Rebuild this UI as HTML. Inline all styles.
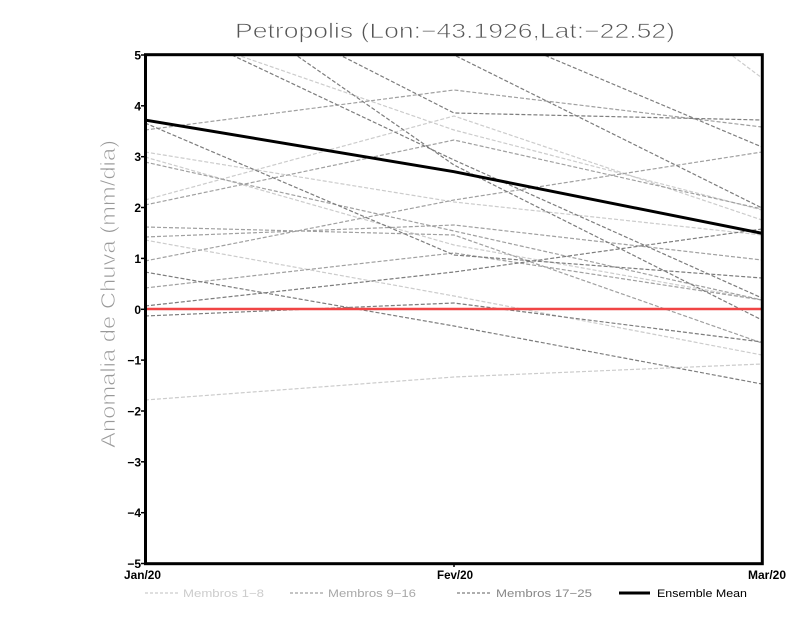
<!DOCTYPE html>
<html>
<head>
<meta charset="utf-8">
<style>
html,body{margin:0;padding:0;background:#fff;}
svg{display:block;}
text{font-family:"Liberation Sans",sans-serif;}
</style>
</head>
<body>
<svg width="800" height="618" viewBox="0 0 800 618" xmlns="http://www.w3.org/2000/svg">
<defs>
<clipPath id="pa"><rect x="145.5" y="55" width="616.5" height="509"/></clipPath>
</defs>
<rect width="800" height="618" fill="#fff"/>

<!-- title -->
<text x="235" y="38" font-size="21" fill="#555" stroke="#fff" stroke-width="0.7" textLength="440" lengthAdjust="spacingAndGlyphs">Petropolis (Lon:−43.1926,Lat:−22.52)</text>

<!-- y label -->
<text transform="translate(115,448) rotate(-90)" x="0" y="0" font-size="20" fill="#999" stroke="#fff" stroke-width="0.7" textLength="308" lengthAdjust="spacingAndGlyphs">Anomalia de Chuva (mm/dia)</text>

<g clip-path="url(#pa)" fill="none" stroke-width="1.2" stroke-dasharray="4 2">
<!-- light members 1-8 -->
<g stroke="#cccccc">
<polyline points="145,-400 454,-153 762,78"/>
<polyline points="145,23 454,130 762,210"/>
<polyline points="145,200 454,116 762,220"/>
<polyline points="145,152 454,202 762,235"/>
<polyline points="145,157 454,245 762,300"/>
<polyline points="145,240 454,296 762,355"/>
<polyline points="145,400 454,377 762,364"/>
</g>
<!-- medium members 9-16 -->
<g stroke="#a0a0a0">
<polyline points="145,130 454,90 762,127"/>
<polyline points="145,205 454,140 762,209"/>
<polyline points="145,237 454,225 762,260"/>
<polyline points="145,162 454,231 762,300"/>
<polyline points="145,227 454,235 762,343"/>
<polyline points="145,261 454,200 762,152"/>
<polyline points="145,288 454,253 762,300"/>
</g>
<!-- dark members 17-25 -->
<g stroke="#7d7d7d">
<polyline points="145,-44 454,113 762,120"/>
<polyline points="145,-100 454,55 762,208"/>
<polyline points="145,-90 454,17 762,147"/>
<polyline points="145,14 454,160 762,298"/>
<polyline points="145,-50 454,165 762,320"/>
<polyline points="145,123 454,255 762,278"/>
<polyline points="145,272 454,326 762,384"/>
<polyline points="145,316 454,303 762,342"/>
<polyline points="145,306 454,272 762,229"/>
</g>
</g>

<!-- zero line -->
<line x1="145.5" y1="309" x2="762" y2="309" stroke="#f04545" stroke-width="2.6"/>
<!-- ensemble mean -->
<polyline clip-path="url(#pa)" points="145,120 454,171.7 762,233.3" fill="none" stroke="#000" stroke-width="3"/>

<!-- frame -->
<rect x="145.5" y="54.7" width="616.8" height="509" fill="none" stroke="#000" stroke-width="3"/>

<!-- y ticks -->
<g stroke="#000" stroke-width="1.5">
<line x1="141" y1="55" x2="145" y2="55"/>
<line x1="141" y1="105.8" x2="145" y2="105.8"/>
<line x1="141" y1="156.7" x2="145" y2="156.7"/>
<line x1="141" y1="207.5" x2="145" y2="207.5"/>
<line x1="141" y1="258.4" x2="145" y2="258.4"/>
<line x1="141" y1="309.3" x2="145" y2="309.3"/>
<line x1="141" y1="360.1" x2="145" y2="360.1"/>
<line x1="141" y1="411" x2="145" y2="411"/>
<line x1="141" y1="461.8" x2="145" y2="461.8"/>
<line x1="141" y1="512.7" x2="145" y2="512.7"/>
<line x1="141" y1="563.5" x2="145" y2="563.5"/>
<line x1="454" y1="563" x2="454" y2="567"/>
</g>
<g font-size="12" font-weight="bold" fill="#000" text-anchor="end">
<text x="141" y="59.5">5</text>
<text x="141" y="110.3">4</text>
<text x="141" y="161.2">3</text>
<text x="141" y="212">2</text>
<text x="141" y="262.9">1</text>
<text x="141" y="313.8">0</text>
<text x="141" y="364.6">−1</text>
<text x="141" y="415.5">−2</text>
<text x="141" y="466.3">−3</text>
<text x="141" y="517.2">−4</text>
<text x="141" y="568">−5</text>
</g>

<!-- x labels -->
<g font-size="12" font-weight="bold" fill="#000">
<text x="124" y="579" textLength="37" lengthAdjust="spacingAndGlyphs">Jan/20</text>
<text x="437" y="579" textLength="36" lengthAdjust="spacingAndGlyphs">Fev/20</text>
<text x="748" y="579" textLength="38" lengthAdjust="spacingAndGlyphs">Mar/20</text>
</g>

<!-- legend -->
<g font-size="11">
<line x1="145" y1="593" x2="178" y2="593" stroke="#cccccc" stroke-width="1.2" stroke-dasharray="3 2"/>
<text x="183" y="597" fill="#cccccc" textLength="81" lengthAdjust="spacingAndGlyphs">Membros 1−8</text>
<line x1="290" y1="593" x2="324" y2="593" stroke="#a0a0a0" stroke-width="1.2" stroke-dasharray="3 2"/>
<text x="328" y="597" fill="#a8a8a8" textLength="88" lengthAdjust="spacingAndGlyphs">Membros 9−16</text>
<line x1="457" y1="593" x2="491" y2="593" stroke="#7d7d7d" stroke-width="1.2" stroke-dasharray="3 2"/>
<text x="496" y="597" fill="#888" textLength="96" lengthAdjust="spacingAndGlyphs">Membros 17−25</text>
<line x1="619" y1="593" x2="650" y2="593" stroke="#000" stroke-width="3"/>
<text x="657" y="597" fill="#000" textLength="90" lengthAdjust="spacingAndGlyphs">Ensemble Mean</text>
</g>
</svg>
</body>
</html>
